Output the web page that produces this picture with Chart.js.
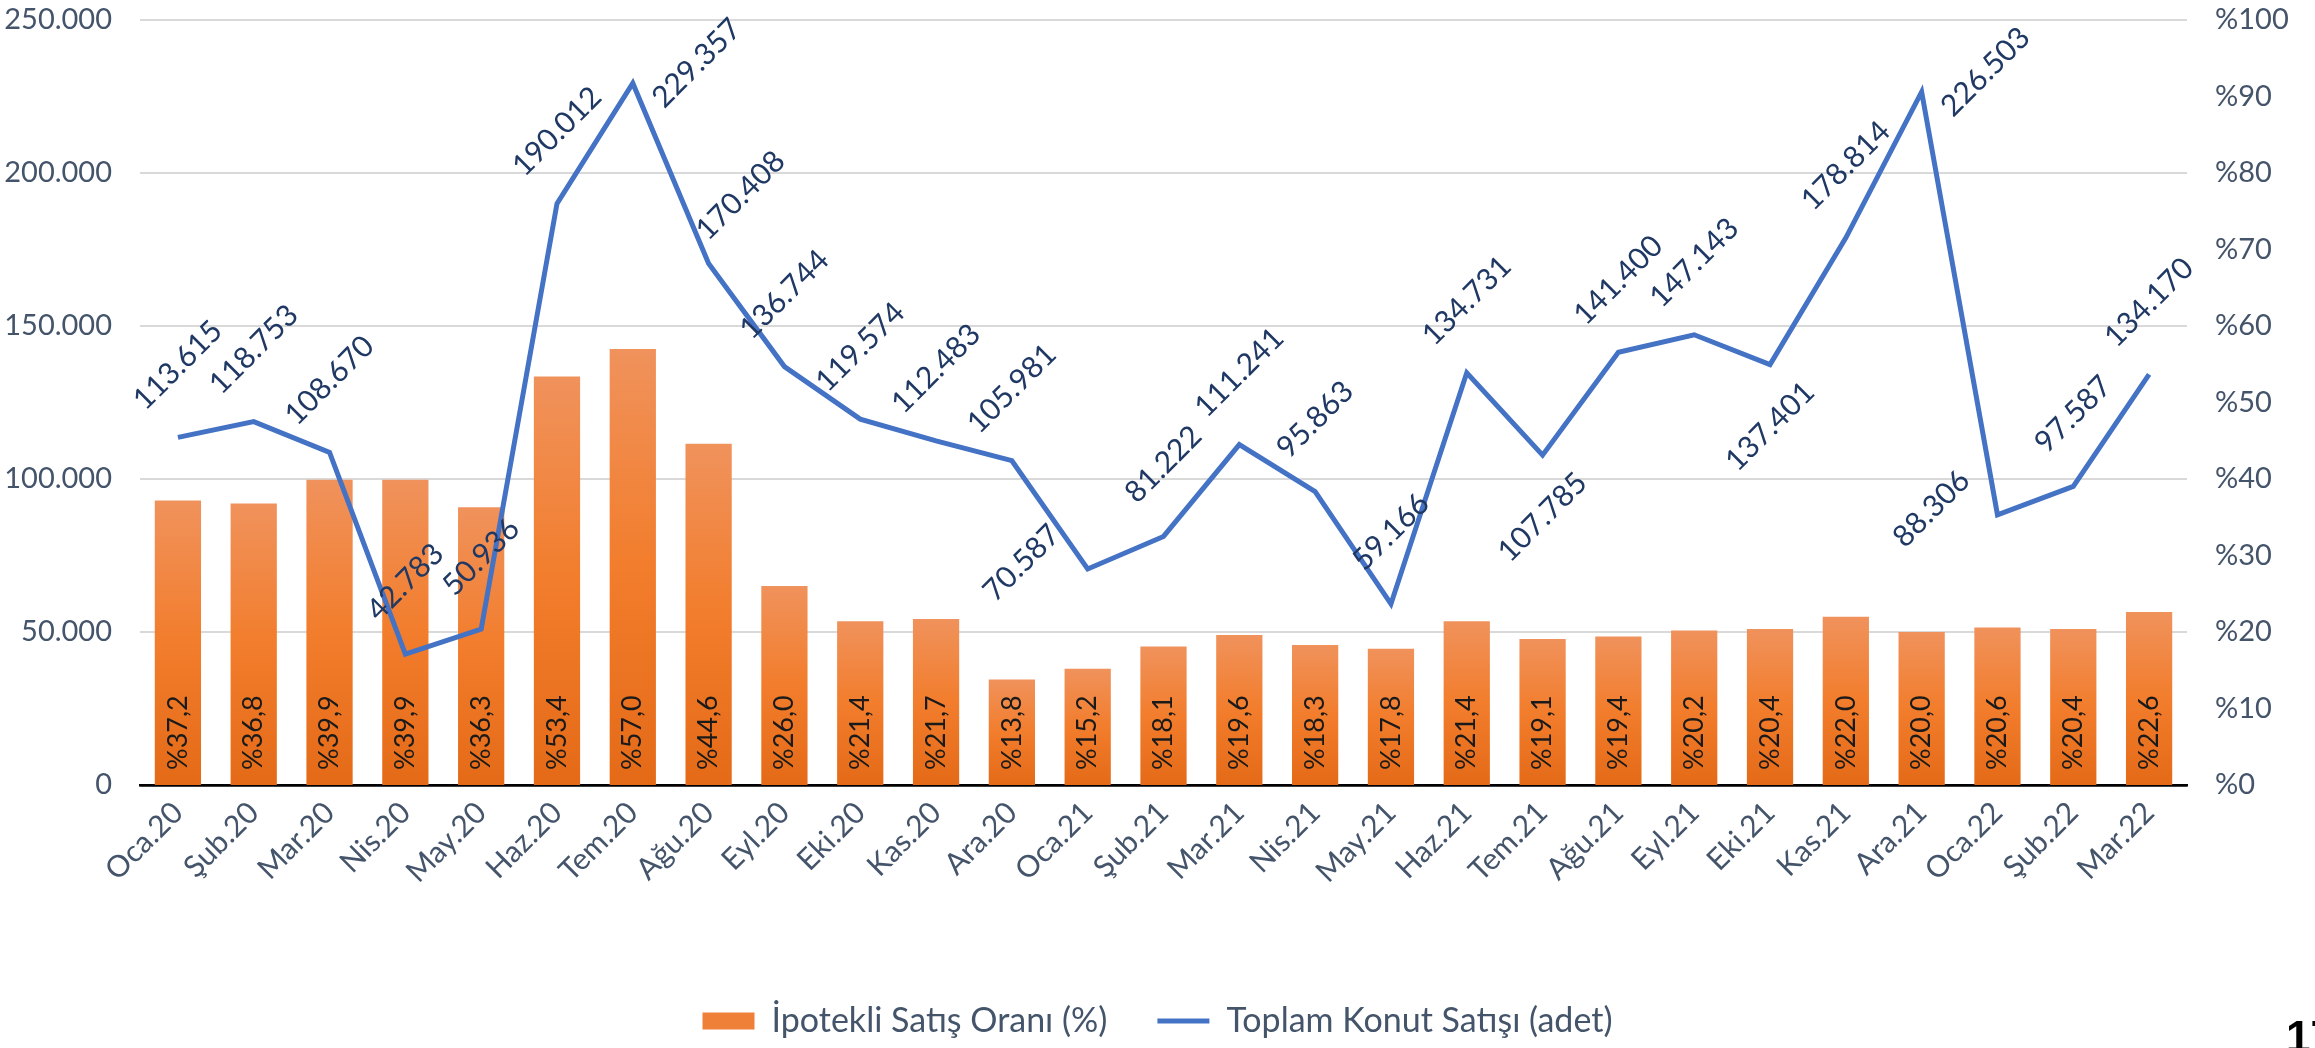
<!DOCTYPE html>
<html lang="tr">
<head>
<meta charset="utf-8">
<title>Konut Satışları</title>
<script src="https://cdn.jsdelivr.net/npm/chart.js@4/dist/chart.umd.min.js"></script>
<style>
  body { margin: 0; background: #fff; }
  #wrap { position: relative; width: 2315px; height: 1048px; overflow: hidden; }
  #pageNo { position: absolute; left: 2286px; top: 1012px; font: bold 44px 'Liberation Sans', sans-serif; color: #000; }
</style>
</head>
<body>
<div id="wrap">
  <canvas id="salesChart" width="2315" height="1048"></canvas>
  <div id="pageNo">17</div>
</div>
<script>
const months = ['Oca.20', 'Şub.20', 'Mar.20', 'Nis.20', 'May.20', 'Haz.20', 'Tem.20', 'Ağu.20', 'Eyl.20',
    'Eki.20', 'Kas.20', 'Ara.20', 'Oca.21', 'Şub.21', 'Mar.21', 'Nis.21', 'May.21', 'Haz.21', 'Tem.21',
    'Ağu.21', 'Eyl.21', 'Eki.21', 'Kas.21', 'Ara.21', 'Oca.22', 'Şub.22', 'Mar.22'];

// İpotekli satış oranı (%)
const mortgageShare = [37.2, 36.8, 39.9, 39.9, 36.3, 53.4, 57.0, 44.6, 26.0, 21.4, 21.7, 13.8, 15.2, 18.1,
    19.6, 18.3, 17.8, 21.4, 19.1, 19.4, 20.2, 20.4, 22.0, 20.0, 20.6, 20.4, 22.6];

// Toplam konut satışı (adet)
const totalSales = [113615, 118753, 108670, 42783, 50936, 190012, 229357, 170408, 136744, 119574, 112483,
    105981, 70587, 81222, 111241, 95863, 59166, 134731, 107785, 141400, 147143, 137401, 178814, 226503,
    88306, 97587, 134170];

// where each line label sits relative to its point: a=above, ar=above right, b=below, l=left, r=right
const labelSpot = ['a', 'a', 'a', 'a', 'a', 'a', 'r', 'ar', 'a', 'a', 'a', 'a', 'l', 'a', 'a', 'a', 'a', 'a',
    'b', 'a', 'a', 'b', 'a', 'r', 'l', 'a', 'a'];

const spotShift = { a: [0, -72], ar: [32, -68], b: [0, 62], l: [-66, -6], r: [64, -20] };

const textColor = '#44546A';
const fontName = 'Lato';

function dotted(v) {
    return String(v).replace(/\B(?=(\d{3})+(?!\d))/g, '.');
}

function pct(v) {
    return '%' + v.toFixed(1).replace('.', ',');
}

function barFill(c) {
    const chart = c.chart;
    if (!chart.chartArea || c.dataIndex === undefined || !chart.scales.y1) return '#EF8038';
    const s = chart.scales.y1;
    const top = s.getPixelForValue(mortgageShare[c.dataIndex]);
    const bottom = s.getPixelForValue(0);
    const g = chart.ctx.createLinearGradient(0, top, 0, bottom);
    g.addColorStop(0, '#F0925C');
    g.addColorStop(0.5, '#F27D2C');
    g.addColorStop(1, '#E46A17');
    return g;
}

const valueLabels = {
    id: 'valueLabels',
    afterDatasetsDraw(chart) {
        const ctx = chart.ctx;

        // bar labels, written upwards from the base
        const bars = chart.getDatasetMeta(0).data;
        ctx.save();
        ctx.font = '27px ' + fontName;
        ctx.fillStyle = '#1a1a1a';
        ctx.textAlign = 'left';
        ctx.textBaseline = 'middle';
        bars.forEach((bar, i) => {
            ctx.save();
            ctx.translate(bar.x, bar.base - 15);
            ctx.rotate(-Math.PI / 2);
            ctx.fillText(pct(mortgageShare[i]), 0, 0);
            ctx.restore();
        });
        ctx.restore();

        // line labels, at 45 degrees
        const points = chart.getDatasetMeta(1).data;
        ctx.save();
        ctx.font = '30px ' + fontName;
        ctx.fillStyle = '#1F3864';
        ctx.textAlign = 'center';
        ctx.textBaseline = 'middle';
        points.forEach((pt, i) => {
            const shift = spotShift[labelSpot[i]];
            ctx.save();
            ctx.translate(pt.x + shift[0], pt.y + shift[1]);
            ctx.rotate(-Math.PI / 4);
            ctx.fillText(dotted(totalSales[i]), 0, 0);
            ctx.restore();
        });
        ctx.restore();
    }
};

const ctx = document.getElementById('salesChart').getContext('2d');

const data = {
    labels: months,
    datasets: [
        {
            type: 'bar',
            label: 'İpotekli Satış Oranı (%)',
            data: mortgageShare,
            yAxisID: 'y1',
            backgroundColor: barFill,
            borderWidth: 0,
            categoryPercentage: 1,
            barPercentage: 0.61,
            order: 1
        },
        {
            type: 'line',
            label: 'Toplam Konut Satışı (adet)',
            data: totalSales,
            yAxisID: 'y',
            borderColor: '#4472C4',
            borderWidth: 5,
            pointRadius: 0,
            tension: 0,
            fill: false,
            order: 0
        }
    ]
};

const options = {
    responsive: false,
    animation: false,
    layout: { padding: { top: 20, left: 0, right: 0, bottom: 0 } },
    scales: {
        x: {
            grid: { display: false, drawTicks: false },
            border: { display: true, color: '#000', width: 2.5 },
            ticks: {
                color: textColor,
                font: { family: fontName, size: 30 },
                minRotation: 45,
                maxRotation: 45,
                autoSkip: false,
                padding: 10
            },
            afterFit: s => { s.height = 169; }
        },
        y: {
            position: 'left',
            min: 0,
            max: 250000,
            grid: {
                color: c => c.tick && c.tick.value === 0 ? '#000' : '#D9D9D9',
                lineWidth: c => c.tick && c.tick.value === 0 ? 2.5 : 2,
                drawTicks: true,
                tickLength: 28,
                tickColor: 'rgba(0,0,0,0)'
            },
            border: { display: false },
            ticks: {
                stepSize: 50000,
                color: textColor,
                font: { family: fontName, size: 29 },
                padding: 0,
                callback: v => dotted(v)
            },
            afterFit: s => { s.width = 140; }
        },
        y1: {
            position: 'right',
            min: 0,
            max: 100,
            grid: { display: false, drawTicks: true, tickLength: 28, tickColor: 'rgba(0,0,0,0)' },
            border: { display: false },
            ticks: {
                stepSize: 10,
                color: textColor,
                font: { family: fontName, size: 29 },
                padding: 0,
                callback: v => '%' + v
            },
            afterFit: s => { s.width = 128; }
        }
    },
    plugins: {
        tooltip: { enabled: false },
        legend: {
            display: true,
            position: 'bottom',
            labels: {
                color: textColor,
                font: { family: fontName, size: 34 },
                usePointStyle: true,
                pointStyleWidth: 52,
                boxHeight: 17,
                padding: 50,
                sort: (a, b) => a.datasetIndex - b.datasetIndex,
                generateLabels: chart => {
                    const items = Chart.defaults.plugins.legend.labels.generateLabels(chart);
                    items.forEach(it => {
                        if (it.datasetIndex === 0) {
                            it.pointStyle = 'rect';
                            it.fillStyle = '#EF8038';
                            it.strokeStyle = '#EF8038';
                            it.lineWidth = 0;
                        } else {
                            it.pointStyle = 'line';
                            it.strokeStyle = '#4472C4';
                            it.lineWidth = 5;
                        }
                    });
                    return items;
                }
            }
        }
    }
};

new Chart(ctx, {
    data: data,
    options: options,
    plugins: [valueLabels]
});
</script>
</body>
</html>
